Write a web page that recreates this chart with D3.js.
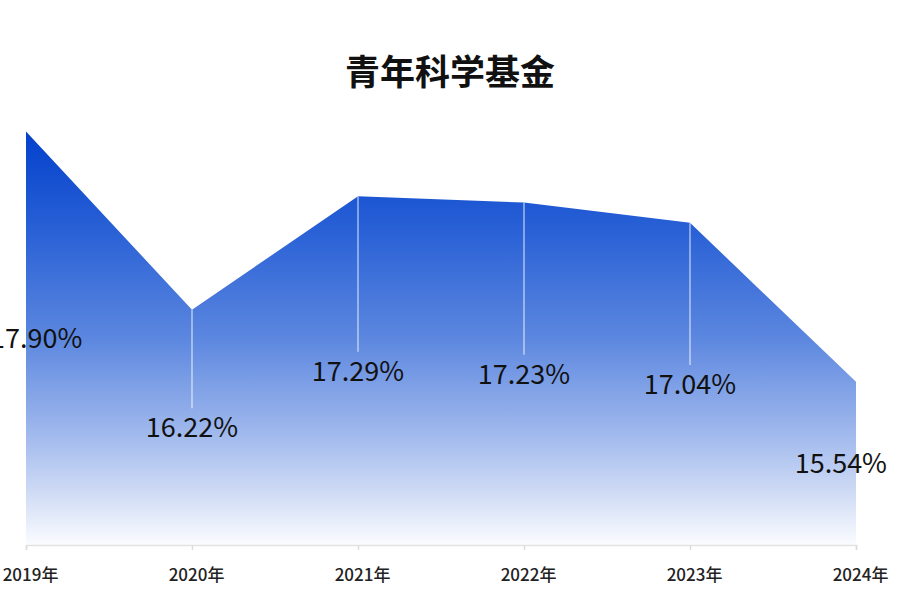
<!DOCTYPE html>
<html>
<head>
<meta charset="utf-8">
<script src="https://cdn.jsdelivr.net/npm/d3@7/dist/d3.min.js"></script>
<style>
html,body{margin:0;padding:0;background:#fff;}
svg{display:block;}
</style>
</head>
<body>
<div id="chart"></div>
<script>
const title = "青年科学基金";
const categories = ["2019年","2020年","2021年","2022年","2023年","2024年"];
const values = [17.90, 16.22, 17.29, 17.23, 17.04, 15.54];
const labels = ["17.90%","16.22%","17.29%","17.23%","17.04%","15.54%"];
const yDomain = [14, 18];

const W = 900, H = 601;
const svg = d3.select("#chart").append("svg").attr("width", W).attr("height", H);

const x = d3.scalePoint().domain(categories).range([26, 856]);
const y = d3.scaleLinear().domain(yDomain).range([545, 121]);

const defs = svg.append("defs");
const grad = defs.append("linearGradient").attr("id","areaGrad")
  .attr("gradientUnits","userSpaceOnUse")
  .attr("x1",0).attr("x2",0).attr("y1",y(d3.max(values))).attr("y2",y(yDomain[0]));
[[0,"#0341cc"],[0.25,"#2b62d6"],[0.5,"#5c87df"],[0.75,"#a6bdee"],[0.92,"#dfe7f8"],[1,"#fbfcff"]]
  .forEach(([o,c]) => grad.append("stop").attr("offset",o).attr("stop-color",c));

const data = categories.map((c,i)=>({c, v: values[i], l: labels[i]}));

// title
svg.append("text").attr("x", W/2).attr("y", 85).attr("text-anchor","middle")
  .attr("font-family","'Noto Sans CJK SC', sans-serif").attr("font-weight","bold")
  .attr("font-size", 35).attr("fill","#111").text(title);

// area
const area = d3.area().x(d=>x(d.c)).y0(y(yDomain[0])).y1(d=>y(d.v));
svg.append("path").datum(data).attr("d", area).attr("fill","url(#areaGrad)");

// axis
const axisG = svg.append("g").attr("transform",`translate(0,${y(yDomain[0])})`)
  .call(d3.axisBottom(x).tickSize(5).tickPadding(19));
axisG.select(".domain").attr("stroke","#e2e2e2").attr("stroke-width",1.5);
axisG.selectAll(".tick line").attr("stroke","#dcdcdc").attr("stroke-width",1.5);
axisG.selectAll(".tick text")
  .attr("font-family","'Noto Sans CJK SC', sans-serif").attr("font-size",17)
  .attr("font-weight",500).attr("fill","#222").attr("dx",4);

// label positions: halfway between the value and the baseline
const base = y(yDomain[0]);
const labelY = d => (y(d.v) + base) / 2;

// guide lines from the point down to the label (interior points)
svg.append("g").selectAll("line").data(data.slice(1, -1)).join("line")
  .attr("x1", d=>x(d.c)).attr("x2", d=>x(d.c))
  .attr("y1", d=>y(d.v)).attr("y2", d=>labelY(d) - 19)
  .attr("stroke","rgba(255,255,255,0.55)").attr("stroke-width",1.6);

// value labels
const lbl = svg.append("g").selectAll("text").data(data).join("text")
  .attr("x", d=>x(d.c)).attr("y", d=>labelY(d) + 10)
  .attr("text-anchor","middle")
  .attr("font-family","'Noto Sans CJK SC', sans-serif").attr("font-size",27)
  .attr("fill","#111").text(d=>d.l);
// keep the right-most label inside the frame
lbl.each(function(d){
  const w = this.getComputedTextLength();
  const cx = Math.max(w/2 - 10, Math.min(x(d.c), W - 13 - w/2));
  d3.select(this).attr("x", cx);
});
</script>
</body>
</html>
